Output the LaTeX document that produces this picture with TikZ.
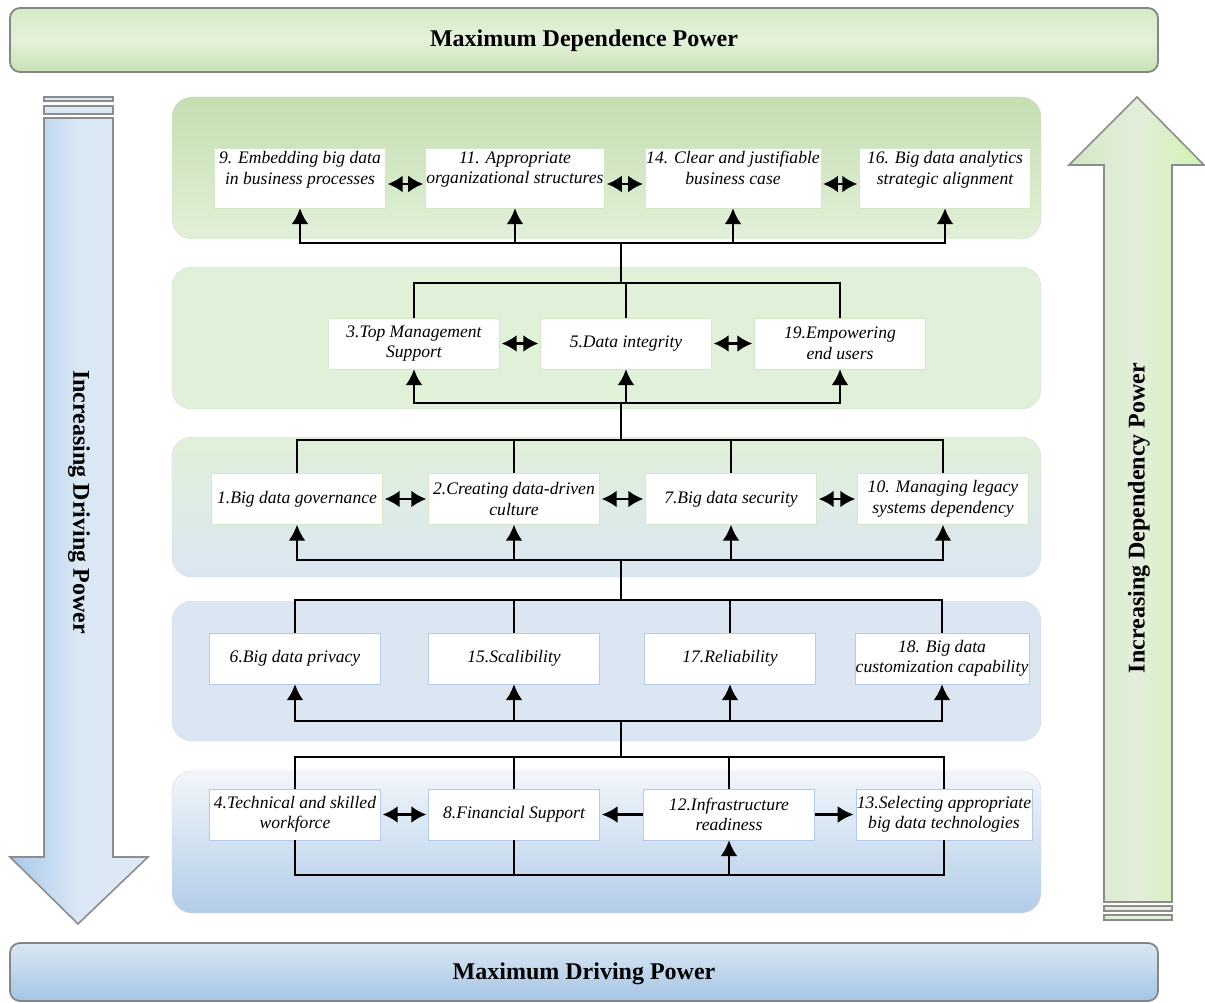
\documentclass[tikz,border=0pt]{standalone}
\usepackage{fontspec}
\setmainfont{Liberation Serif}
\usetikzlibrary{arrows.meta}

\definecolor{lgA}{HTML}{C4DEB1}
\definecolor{lgB}{HTML}{E2F0D9}
\definecolor{lgC}{HTML}{E1F0D9}
\definecolor{lbA}{HTML}{DCE6F2}
\definecolor{lbB}{HTML}{F2F6FB}
\definecolor{lbC}{HTML}{B2CDE8}
\definecolor{gtop}{HTML}{D5E9C5}
\definecolor{gmid}{HTML}{E4F2DB}
\definecolor{gbot}{HTML}{C9E2B6}
\definecolor{btop}{HTML}{DAE6F3}
\definecolor{bbot}{HTML}{A5C5E6}
\definecolor{abL}{HTML}{A8C8EA}
\definecolor{abM}{HTML}{DAE7F4}
\definecolor{abR}{HTML}{DEE9F5}
\definecolor{agL}{HTML}{D2E7C4}
\definecolor{agM}{HTML}{E3EEDB}
\definecolor{agR}{HTML}{D0F3B0}
\definecolor{edgeG}{HTML}{D3E6C6}
\definecolor{edgeB}{HTML}{B4C8E8}

\begin{document}
\begin{tikzpicture}[x=1pt,y=-1pt]
 \tikzset{
  box/.style={draw=#1, fill=white, minimum width=171pt, minimum height=51pt,
   inner sep=1pt, align=center, font=\fontsize{17.6}{20.5}\selectfont\itshape},
  box/.default={edgeG},
  lvl/.style={draw=gray!30, rounded corners=20pt},
  ban/.style={draw=gray!95, line width=1.8pt, rounded corners=10pt},
  bar/.style={draw=gray!90, line width=1.6pt},
  ln/.style={line width=2.6pt},
  up/.style={ln, -{Latex[length=16pt,width=17pt]}},
  dbl/.style={ln, {Latex[length=15pt,width=17pt]}-{Latex[length=15pt,width=17pt]},
   shorten <=2pt, shorten >=2pt},
  ttl/.style={font=\fontsize{24}{28}\selectfont\bfseries}
 }
 \useasboundingbox (0,0) rectangle (1205,1003);

 % banners
 \path [ban, top color=gtop, bottom color=gbot, middle color=gmid] (10,8) rectangle (1158,72);
 \node [ttl] (maxdep) at (584,41) {Maximum Dependence Power};
 \path [ban, top color=btop, bottom color=bbot] (10,943) rectangle (1158,1001);
 \node [ttl] (maxdrv) at (584,974) {Maximum Driving Power};

 % big arrows
 \path [bar, left color=abL, right color=abR, middle color=abM]
  (44,118) -- (113,118) -- (113,857) -- (148,857) -- (78,924) -- (10,857) -- (44,857) -- cycle;
 \foreach \a/\b in {97/101, 106/114} { \path [bar, line width=1.2pt, fill=abM] (44,\a) rectangle (113,\b); }
 \node [ttl, rotate=-90] (drvtxt) at (79,502) {Increasing Driving Power};

 \path [bar, left color=agL, right color=agR, middle color=agM]
  (1104,902) -- (1104,165) -- (1069,165) -- (1137,97) -- (1204,165) -- (1172,165) -- (1172,902) -- cycle;
 \foreach \a/\b in {906/911, 915/920} { \path [bar, line width=1.2pt, fill=agM] (1104,\a) rectangle (1172,\b); }
 \node [ttl, rotate=90] (deptxt) at (1139,518) {Increasing Dependency Power};

 % levels
 \foreach \t/\b/\ca/\cb in {97/239/lgA/lgB, 267/409/lgC/lgC, 437/577/lgC/lbA,
                           601/741/lbA/lbA, 771/913/lbB/lbC}
  { \path [lvl, top color=\ca, bottom color=\cb] (172,\t) rectangle (1041,\b); }

 % level 1
 \node [box, minimum height=60pt] (n9)  at (300,178) {9. Embedding big data\\in business processes\\ \mbox{}};
 \node [box, minimum height=60pt] (n11) at (515,178) {11. Appropriate\\organizational structures\\ \mbox{}};
 \node [box, minimum height=60pt] (n14) at (733,178) {14. Clear and justifiable\\business case\\ \mbox{}};
 \node [box, minimum height=60pt] (n16) at (945,178) {16. Big data analytics\\strategic alignment\\ \mbox{}};
 % level 2
 \node [box] (n3)  at (414,343.5) {3.Top Management\\Support};
 \node [box] (n5)  at (626,343.5) {5.Data integrity};
 \node [box] (n19) at (840,343.5) {19.Empowering\\end users};
 % level 3
 \node [box] (n1)  at (297,499) {1.Big data governance};
 \node [box] (n2)  at (514,499) {2.Creating data-driven\\culture};
 \node [box] (n7)  at (731,499) {7.Big data security};
 \node [box] (n10) at (943,499) {10. Managing legacy\\systems dependency};
 % level 4
 \node [box=edgeB] (n6)  at (295,658.5) {6.Big data privacy};
 \node [box=edgeB] (n15) at (514,658.5) {15.Scalibility};
 \node [box=edgeB] (n17) at (730,658.5) {17.Reliability};
 \node [box=edgeB] (n18) at (942,658.5) {18. Big data\\customization capability};
 % level 5
 \node [box=edgeB] (n4)  at (295,814.5) {4.Technical and skilled\\workforce};
 \node [box=edgeB] (n8)  at (514,814.5) {8.Financial Support};
 \node [box=edgeB] (n12) at (729,814.5) {12.Infrastructure\\readiness};
 \node [box=edgeB] (n13) at (944,814.5) {13.Selecting appropriate\\big data technologies};

 % bus junctions
 \coordinate (j1) at (621,243);
 \coordinate (t2) at (621,283);
 \coordinate (j2) at (621,403);
 \coordinate (t3) at (621,440);
 \coordinate (j3) at (621,560);
 \coordinate (t4) at (621,600);
 \coordinate (j4) at (621,721);
 \coordinate (t5) at (621,757);
 \coordinate (j5) at (729,875);

 \foreach \n in {n9,n11,n14,n16} { \draw [up] (j1) -| (\n); }
 \draw [ln] (t2) -- (j1);
 \foreach \n in {n3,n5,n19} { \draw [ln] (t2) -| (\n); }
 \foreach \n in {n3,n5,n19} { \draw [up] (j2) -| (\n); }
 \draw [ln] (t3) -- (j2);
 \foreach \n in {n1,n2,n7,n10} { \draw [ln] (t3) -| (\n); }
 \foreach \n in {n1,n2,n7,n10} { \draw [up] (j3) -| (\n); }
 \draw [ln] (t4) -- (j3);
 \foreach \n in {n6,n15,n17,n18} { \draw [ln] (t4) -| (\n); }
 \foreach \n in {n6,n15,n17,n18} { \draw [up] (j4) -| (\n); }
 \draw [ln] (t5) -- (j4);
 \foreach \n in {n4,n8,n12,n13} { \draw [ln] (t5) -| (\n); }
 \foreach \n in {n4,n8,n13} { \draw [ln] (\n) |- (j5); }
 \draw [up] (j5) -- (n12);

 % mutual links
 \foreach \a/\b in {n9/n11, n11/n14, n14/n16}
  { \draw [dbl] ([yshift=-6pt]\a.east) -- ([yshift=-6pt]\b.west); }
 \foreach \a/\b in {n3/n5, n5/n19, n1/n2, n2/n7, n7/n10, n4/n8}
  { \draw [dbl] (\a) -- (\b); }
 \draw [up, shorten >=2pt] (n12) -- (n8);
 \draw [up, shorten >=2pt] (n12) -- (n13);
\end{tikzpicture}
\end{document}
